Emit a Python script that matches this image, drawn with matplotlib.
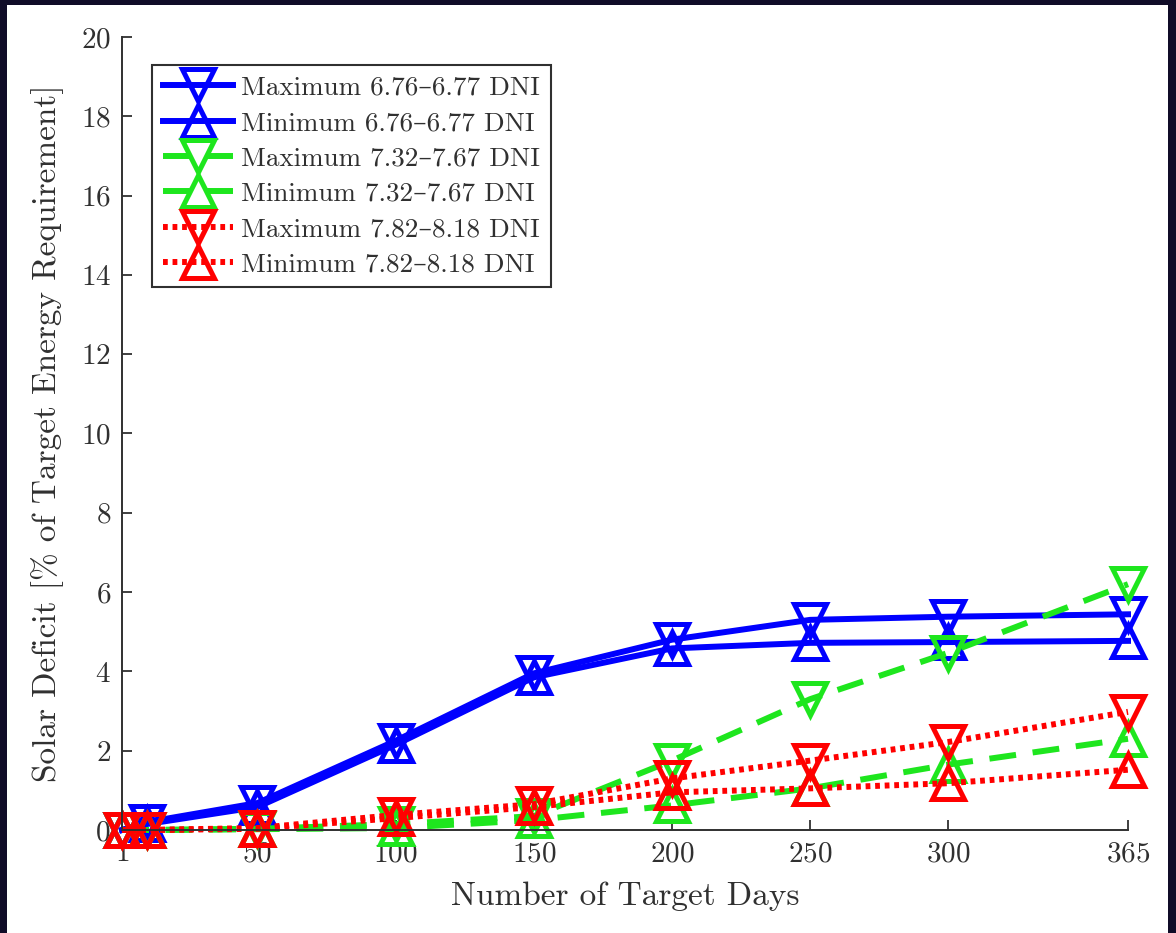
import matplotlib
matplotlib.use("Agg")
import matplotlib.pyplot as plt
from matplotlib.patches import Rectangle

plt.rcParams['font.family'] = ['cmr10', 'DejaVu Serif']
plt.rcParams['mathtext.fontset'] = 'cm'
plt.rcParams['axes.formatter.use_mathtext'] = True

# data
days = [1, 10, 50, 100, 150, 200, 250, 300, 365]
blue_max = [0.0, 0.2, 0.68, 2.25, 3.95, 4.8, 5.3, 5.38, 5.44]
blue_min = [0.0, 0.15, 0.58, 2.15, 3.85, 4.58, 4.72, 4.74, 4.77]
green_max = [0.0, 0.0, 0.03, 0.15, 0.35, 1.75, 3.3, 4.47, 6.2]
green_min = [0.0, 0.0, 0.02, 0.05, 0.25, 0.62, 1.05, 1.65, 2.3]
red_max = [0.0, 0.0, 0.05, 0.38, 0.65, 1.3, 1.75, 2.22, 2.98]
red_min = [0.0, 0.0, 0.03, 0.3, 0.58, 0.95, 1.05, 1.18, 1.52]

labels = ["Maximum 6.76\u20136.77 DNI", "Minimum 6.76\u20136.77 DNI",
          "Maximum 7.32\u20137.67 DNI", "Minimum 7.32\u20137.67 DNI",
          "Maximum 7.82\u20138.18 DNI", "Minimum 7.82\u20138.18 DNI"]
xticks = [1, 50, 100, 150, 200, 250, 300, 365]
yticks = [0, 2, 4, 6, 8, 10, 12, 14, 16, 18, 20]

BLUE = '#0000ff'
GREEN = '#1ee61e'
RED = '#ff0000'
AXC = '#303030'

fig = plt.figure(figsize=(11.76, 9.33), dpi=100)
fig.patch.set_facecolor('#100c28')
fig.patches.append(Rectangle((7 / 1176, 0), 1161 / 1176, 928 / 933,
                             transform=fig.transFigure, facecolor='white',
                             edgecolor='none', zorder=-10))

ax = fig.add_axes([122 / 1176, 1 - 830 / 933, 1006 / 1176, 793 / 933])

series = [
    (blue_max, BLUE, '-', 'v'),
    (blue_min, BLUE, '-', '^'),
    (green_max, GREEN, (0, (4.5, 2.8)), 'v'),
    (green_min, GREEN, (0, (4.5, 2.8)), '^'),
    (red_max, RED, (0, (0.8, 0.8)), 'v'),
    (red_min, RED, (0, (0.8, 0.8)), '^'),
]
for (vals, col, ls, mk), lab in zip(series, labels):
    ax.plot(days, vals, color=col, linestyle=ls, linewidth=4.3, marker=mk,
            markersize=23, markeredgewidth=3.6, markerfacecolor='none',
            label=lab, clip_on=False)

ax.set_xlim(1, 365)
ax.set_ylim(0, 20)
ax.set_xticks(xticks)
ax.set_yticks(yticks)
ax.spines['top'].set_visible(False)
ax.spines['right'].set_visible(False)
for s in ('left', 'bottom'):
    ax.spines[s].set_color(AXC)
    ax.spines[s].set_linewidth(1.4)
ax.tick_params(direction='in', length=7, width=1.3, colors=AXC,
               labelsize=21, pad=8)

ax.set_xlabel("Number of Target Days", fontsize=24, color=AXC)
ax.set_ylabel("Solar Deficit [% of Target Energy Requirement]", fontsize=24, color=AXC)
ax.xaxis.set_label_coords(0.5, -0.065)
ax.yaxis.set_label_coords(-0.058, 0.5)

leg = ax.legend(loc='upper left', bbox_to_anchor=(0.0298, 0.9647),
                borderaxespad=0, fontsize=19.5, handlelength=2.6,
                handletextpad=0.3, labelspacing=0.42, borderpad=0.4,
                fancybox=False, framealpha=1, edgecolor=AXC)
leg.get_frame().set_linewidth(1.5)
for t in leg.get_texts():
    t.set_color(AXC)

fig.savefig("out.png", dpi=100, facecolor=fig.get_facecolor())
